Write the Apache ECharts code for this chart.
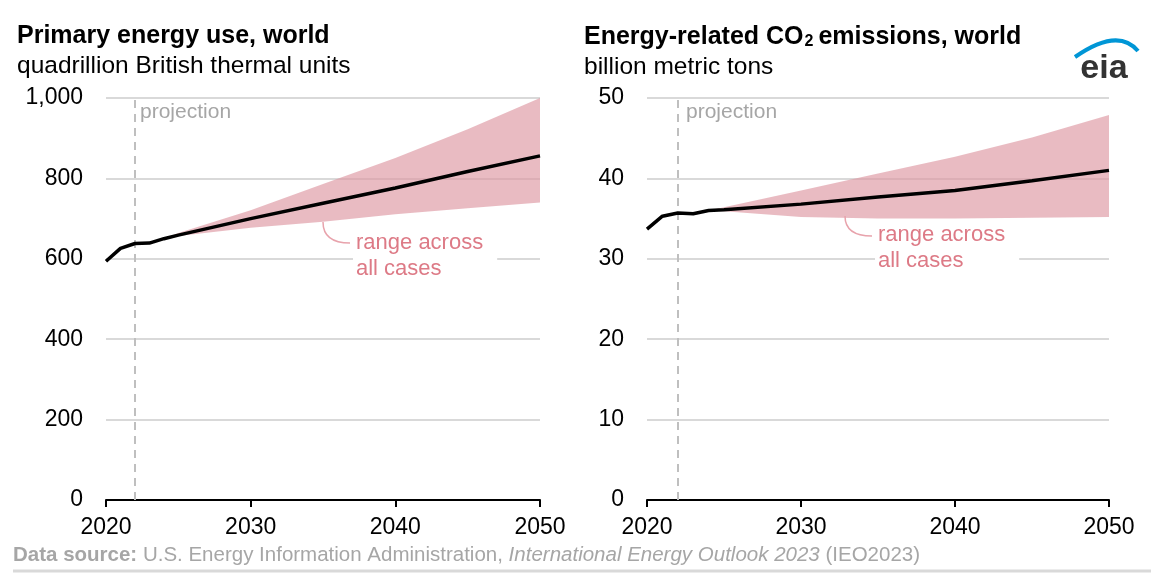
<!DOCTYPE html>
<html>
<head>
<meta charset="utf-8">
<script src="https://cdn.jsdelivr.net/npm/echarts@6/dist/echarts.min.js"></script>
<style>
  html, body { margin: 0; padding: 0; background: #fff; }
  #chart { width: 1151px; height: 575px; }
</style>
</head>
<body>
<div id="chart"></div>
<script>
// values (IEO2023)
const years = [2020, 2021, 2022, 2023, 2024, 2025, 2030, 2035, 2040, 2045, 2050];
const bandYears = [2024, 2025, 2030, 2035, 2040, 2045, 2050];

const energyUse = [594, 626, 638, 639, 650, 659, 700, 738, 776, 817, 856];
const energyLow = [650, 657, 677, 692, 711, 726, 740];
const energyHigh = [650, 664, 721, 786, 851, 922, 1000];

const co2 = [33.7, 35.3, 35.7, 35.6, 36.0, 36.1, 36.8, 37.7, 38.5, 39.7, 41.0];
const co2Low = [36.0, 35.9, 35.2, 35.0, 35.0, 35.1, 35.2];
const co2High = [36.0, 36.4, 38.5, 40.6, 42.7, 45.1, 47.9];

const xTicks = [2020, 2030, 2040, 2050];
const projectionYear = 2022;

const FONT = 'Liberation Sans, Arial, Helvetica, sans-serif';
const BAND = 'rgba(222, 152, 163, 0.66)';
const NOTE = '#dd7a86';

const pairs = (xs, ys) => xs.map((x, i) => [x, ys[i]]);

function xAxis(idx) {
  return {
    type: 'value', gridIndex: idx,
    min: xTicks[0], max: xTicks[xTicks.length - 1], interval: 10,
    axisLine: { show: true, lineStyle: { color: '#000', width: 2 } },
    axisTick: { show: true, length: 7, lineStyle: { color: '#000', width: 2 } },
    axisLabel: { color: '#000', fontSize: 23, fontFamily: FONT, margin: 16, formatter: v => String(v) },
    splitLine: { show: false }
  };
}

function yAxis(idx, max, interval) {
  return {
    type: 'value', gridIndex: idx, min: 0, max: max, interval: interval,
    axisLine: { show: false }, axisTick: { show: false },
    axisLabel: { color: '#000', fontSize: 23, fontFamily: FONT, margin: 23 },
    splitLine: { lineStyle: { color: '#d9d9d9', width: 2 } }
  };
}

// range across all cases: one polygon, upper edge forward then lower edge back
function bandSeries(idx, lo, hi) {
  return {
    type: 'custom', xAxisIndex: idx, yAxisIndex: idx, silent: true, z: 2,
    data: bandYears.map((y, i) => [y, lo[i], hi[i]]),
    encode: { x: 0, y: [1, 2] },
    renderItem: function (params, api) {
      if (params.dataIndex !== 0) return null;
      const top = bandYears.map((y, i) => api.coord([y, hi[i]]));
      const bottom = bandYears.map((y, i) => api.coord([y, lo[i]])).reverse();
      return {
        type: 'polygon',
        shape: { points: top.concat(bottom) },
        style: { fill: BAND, stroke: null }
      };
    }
  };
}

function mainLine(idx, values) {
  return {
    type: 'line', xAxisIndex: idx, yAxisIndex: idx,
    data: pairs(years, values), symbol: 'none', z: 5,
    lineStyle: { color: '#000', width: 3.5 },
    markLine: {
      symbol: 'none', silent: true, label: { show: false },
      lineStyle: { color: '#bfbfbf', width: 2, type: [8, 6] },
      data: [{ xAxis: projectionYear }]
    }
  };
}

function text(x, y, str, font, fill, extra) {
  return {
    type: 'text', x: x, y: y, z: 10,
    style: Object.assign({
      text: str, font: font, fill: fill,
      textVerticalAlign: 'middle', verticalAlign: 'middle'
    }, extra || {})
  };
}

const chart = echarts.init(document.getElementById('chart'));
chart.setOption({
  animation: false,
  backgroundColor: '#fff',
  textStyle: { fontFamily: FONT },
  title: [{
    text: 'Primary energy use, world',
    subtext: 'quadrillion British thermal units',
    left: 17, top: 24, padding: 0, itemGap: 5,
    textStyle: { fontSize: 25, fontWeight: 'bold', color: '#000', fontFamily: FONT },
    subtextStyle: { fontSize: 24.5, color: '#000', fontFamily: FONT }
  }, {
    text: 'Energy-related CO{sub|2}emissions, world',
    subtext: 'billion metric tons',
    left: 584, top: 24, padding: 0, itemGap: 5,
    textStyle: {
      fontSize: 25, fontWeight: 'bold', color: '#000', fontFamily: FONT,
      rich: { sub: { fontSize: 16, fontWeight: 'bold', color: '#000', verticalAlign: 'bottom', padding: [10, 5, 0, 1] } }
    },
    subtextStyle: { fontSize: 24.5, color: '#000', fontFamily: FONT }
  }, {
    text: '{b|Data source:} U.S. Energy Information Administration, {i|International Energy Outlook 2023} (IEO2023)',
    left: 13, top: 545, padding: 0,
    textStyle: {
      fontSize: 20.5, fontWeight: 'normal', color: '#a6a6a6', fontFamily: FONT,
      rich: {
        b: { fontSize: 20.5, fontWeight: 'bold', color: '#a6a6a6' },
        i: { fontSize: 20.5, fontStyle: 'italic', color: '#a6a6a6' }
      }
    }
  }],
  grid: [
    { left: 106, right: 611, top: 98, bottom: 75 },
    { left: 647, right: 42, top: 98, bottom: 75 }
  ],
  xAxis: [xAxis(0), xAxis(1)],
  yAxis: [yAxis(0, 1000, 200), yAxis(1, 50, 10)],
  series: [
    bandSeries(0, energyLow, energyHigh),
    mainLine(0, energyUse),
    bandSeries(1, co2Low, co2High),
    mainLine(1, co2)
  ],
  graphic: [
    text(140, 112, 'projection', '21px ' + FONT, '#a6a6a6'),
    text(686, 112, 'projection', '21px ' + FONT, '#a6a6a6'),
    {
      type: 'bezierCurve', z: 9, silent: true,
      shape: { x1: 323, y1: 222, cpx1: 323, cpy1: 243, x2: 350, y2: 243 },
      style: { stroke: '#e8a3ac', lineWidth: 1.5, fill: null }
    },
    text(353, 230, 'range across\nall cases', '22px ' + FONT, NOTE,
      { backgroundColor: '#fff', padding: [0, 14, 0, 3], lineHeight: 26, textVerticalAlign: 'top', verticalAlign: 'top' }),
    {
      type: 'bezierCurve', z: 9, silent: true,
      shape: { x1: 845, y1: 216, cpx1: 845, cpy1: 236, x2: 872, y2: 236 },
      style: { stroke: '#e8a3ac', lineWidth: 1.5, fill: null }
    },
    text(875, 222, 'range across\nall cases', '22px ' + FONT, NOTE,
      { backgroundColor: '#fff', padding: [0, 14, 0, 3], lineHeight: 26, textVerticalAlign: 'top', verticalAlign: 'top' }),
    // eia logo
    {
      type: 'bezierCurve', z: 9, silent: true,
      shape: { x1: 1075, y1: 57, cpx1: 1118, cpy1: 27, x2: 1138, y2: 51 },
      style: { stroke: '#0096d6', lineWidth: 4, fill: null }
    },
    text(1104, 69, 'eia', 'bold 34px ' + FONT, '#333333',
      { textAlign: 'center', align: 'center' }),
    {
      type: 'line', z: 9, silent: true,
      shape: { x1: 13, y1: 571, x2: 1151, y2: 571 },
      style: { stroke: '#d9d9d9', lineWidth: 3 }
    }
  ]
});
</script>
</body>
</html>
